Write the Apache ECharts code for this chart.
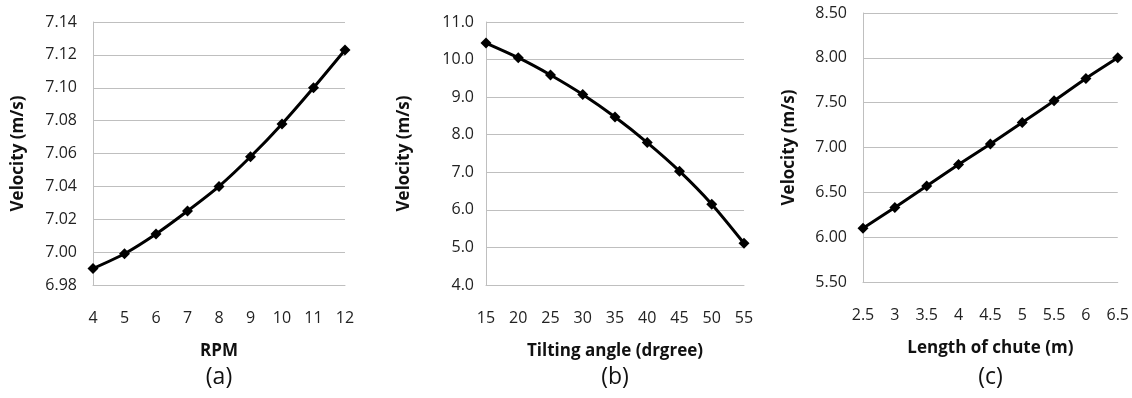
<!DOCTYPE html>
<html>
<head>
<meta charset="utf-8">
<script src="https://cdn.jsdelivr.net/npm/echarts@6/dist/echarts.min.js"></script>
<style>html,body{margin:0;padding:0;background:#fff;}#c{width:1132px;height:398px;}</style>
</head>
<body>
<div id="c"></div>
<script>
// Panel (a): Velocity vs RPM
const rpmCategories = ['4','5','6','7','8','9','10','11','12'];
const rpmVelocity = [6.990, 6.999, 7.011, 7.025, 7.040, 7.058, 7.078, 7.100, 7.123];
// Panel (b): Velocity vs tilting angle
const angleCategories = ['15','20','25','30','35','40','45','50','55'];
const angleVelocity = [10.44, 10.05, 9.59, 9.07, 8.47, 7.79, 7.03, 6.15, 5.11];
// Panel (c): Velocity vs length of chute
const lengthCategories = ['2.5','3','3.5','4','4.5','5','5.5','6','6.5'];
const lengthVelocity = [6.10, 6.33, 6.57, 6.81, 7.04, 7.28, 7.52, 7.77, 8.00];

const xNames = ['RPM', 'Tilting angle (drgree)', 'Length of chute (m)'];
const yName = 'Velocity (m/s)';
const panelLabels = ['(a)', '(b)', '(c)'];

const FONT = '"Open Sans", "Noto Sans", sans-serif';
const gridColor = '#bfbfbf';

const grids = [
  {left: 93, top: 22, width: 252, height: 263},
  {left: 486, top: 22, width: 258, height: 263},
  {left: 863, top: 13, width: 255, height: 269}
];
const yRanges = [
  {min: 6.98, max: 7.14, interval: 0.02, dec: 2, margin: 16, gap: 66},
  {min: 4, max: 11, interval: 1, dec: 1, margin: 12, gap: 73},
  {min: 5.5, max: 8.5, interval: 0.5, dec: 2, margin: 16, gap: 65}
];
const cats = [rpmCategories, angleCategories, lengthCategories];
const vals = [rpmVelocity, angleVelocity, lengthVelocity];

const option = {
  backgroundColor: '#fff',
  animation: false,
  grid: grids.map(g => Object.assign({containLabel: false}, g)),
  xAxis: cats.map((c, i) => ({
    type: 'category', gridIndex: i, data: c, boundaryGap: false,
    name: xNames[i], nameLocation: 'middle', nameGap: 58,
    nameTextStyle: {fontFamily: FONT, fontSize: 17, fontWeight: 'bold', color: '#111'},
    axisLine: {show: true, lineStyle: {color: gridColor, width: 1}},
    axisTick: {show: false},
    axisLabel: {fontFamily: FONT, fontSize: 16, color: '#222', margin: 25, interval: 0},
    splitLine: {show: false}
  })),
  yAxis: yRanges.map((r, i) => ({
    type: 'value', gridIndex: i, min: r.min, max: r.max, interval: r.interval,
    name: yName, nameLocation: 'middle', nameGap: r.gap,
    nameTextStyle: {fontFamily: FONT, fontSize: 17, fontWeight: 'bold', color: '#111'},
    axisLine: {show: true, lineStyle: {color: gridColor, width: 1}},
    axisTick: {show: false},
    axisLabel: {fontFamily: FONT, fontSize: 16, color: '#222', margin: r.margin,
      formatter: v => Number(v).toFixed(r.dec)},
    splitLine: {show: true, lineStyle: {color: gridColor, width: 1}}
  })),
  series: vals.map((v, i) => ({
    type: 'line', xAxisIndex: i, yAxisIndex: i, data: v, smooth: 0.25,
    symbol: 'diamond', symbolSize: 11,
    lineStyle: {color: '#000', width: 3},
    itemStyle: {color: '#000'}
  })),
  graphic: panelLabels.map((t, i) => ({
    type: 'text',
    x: grids[i].left + grids[i].width / 2, y: 377,
    style: {text: t, fontFamily: FONT, fontSize: 23, fill: '#111',
      textAlign: 'center', textVerticalAlign: 'middle'}
  }))
};
const chart = echarts.init(document.getElementById('c'), null, {renderer: 'canvas'});
chart.setOption(option);
</script>
</body>
</html>
